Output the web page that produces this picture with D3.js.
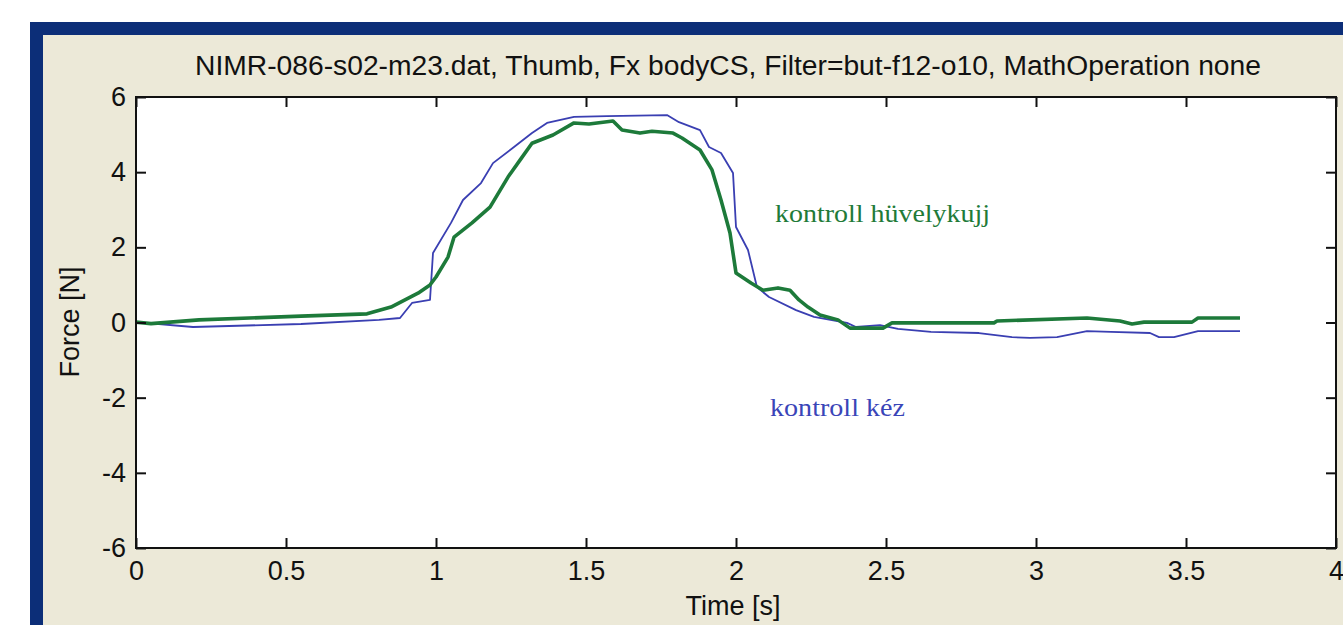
<!DOCTYPE html>
<html>
<head>
<meta charset="utf-8">
<script src="https://cdn.jsdelivr.net/npm/d3@7"></script>
<style>
  html, body { margin: 0; padding: 0; background: #ffffff; overflow: hidden; }
  svg { display: block; }
</style>
</head>
<body>
<svg id="chart" width="1343" height="625"></svg>
<script>
// ---- data ----
const titleText = "NIMR-086-s02-m23.dat, Thumb, Fx bodyCS, Filter=but-f12-o10, MathOperation none";
const xLabel = "Time [s]";
const yLabel = "Force [N]";
const xTicks = [0, 0.5, 1, 1.5, 2, 2.5, 3, 3.5, 4];
const xTickLabels = ["0", "0.5", "1", "1.5", "2", "2.5", "3", "3.5", "4"];
const yTicks = [-6, -4, -2, 0, 2, 4, 6];
const yTickLabels = ["-6", "-4", "-2", "0", "2", "4", "6"];
const seriesNames = ["kontroll hüvelykujj", "kontroll kéz"];

// thumb (green)
const thumbT = [0, 0.05, 0.21, 0.55, 0.77, 0.85, 0.94, 0.98, 1.00, 1.04, 1.06, 1.12, 1.18, 1.24, 1.28, 1.32, 1.39, 1.46, 1.51, 1.59, 1.62, 1.68, 1.72, 1.79, 1.82, 1.88, 1.92, 1.95, 1.98, 2.00, 2.05, 2.09, 2.14, 2.18, 2.21, 2.24, 2.28, 2.34, 2.38, 2.49, 2.52, 2.86, 2.87, 3.17, 3.28, 3.32, 3.36, 3.52, 3.54, 3.68];
const thumbF = [0.01, -0.03, 0.07, 0.17, 0.23, 0.41, 0.78, 1.00, 1.21, 1.74, 2.27, 2.65, 3.07, 3.87, 4.32, 4.77, 4.99, 5.31, 5.28, 5.36, 5.12, 5.04, 5.09, 5.04, 4.91, 4.59, 4.06, 3.26, 2.38, 1.32, 1.05, 0.86, 0.92, 0.86, 0.60, 0.41, 0.20, 0.07, -0.15, -0.15, -0.01, -0.01, 0.04, 0.12, 0.04, -0.04, 0.01, 0.01, 0.12, 0.12];

// hand (blue)
const handT = [0, 0.19, 0.55, 0.81, 0.88, 0.92, 0.98, 0.99, 1.05, 1.09, 1.15, 1.19, 1.26, 1.32, 1.37, 1.46, 1.57, 1.77, 1.81, 1.88, 1.91, 1.95, 1.99, 2.00, 2.04, 2.07, 2.11, 2.20, 2.26, 2.37, 2.40, 2.48, 2.54, 2.65, 2.81, 2.92, 2.98, 3.07, 3.17, 3.25, 3.38, 3.41, 3.46, 3.54, 3.68];
const handF = [0.01, -0.12, -0.04, 0.07, 0.12, 0.52, 0.60, 1.85, 2.65, 3.26, 3.71, 4.24, 4.67, 5.04, 5.31, 5.47, 5.49, 5.52, 5.33, 5.12, 4.67, 4.51, 3.98, 2.54, 1.93, 0.94, 0.68, 0.33, 0.15, -0.01, -0.12, -0.07, -0.17, -0.25, -0.28, -0.39, -0.41, -0.39, -0.23, -0.25, -0.28, -0.39, -0.39, -0.23, -0.23];

// ---- layout ----
const svg = d3.select("#chart");
const W = 1343, H = 625;
const plot = { left: 136, top: 97, right: 1336, bottom: 548 };

// window frame
svg.append("rect").attr("x", 30).attr("y", 22).attr("width", W - 30).attr("height", H - 22).attr("fill", "#0c2e78");
svg.append("rect").attr("x", 43).attr("y", 35).attr("width", W - 43).attr("height", H - 35).attr("fill", "#ece9d8");
// plot area
svg.append("rect").attr("x", plot.left).attr("y", plot.top)
  .attr("width", plot.right - plot.left).attr("height", plot.bottom - plot.top).attr("fill", "#ffffff");

const x = d3.scaleLinear().domain([0, 4]).range([plot.left, plot.right]);
const y = d3.scaleLinear().domain([-6, 6]).range([plot.bottom, plot.top]);

const fontSans = "'Liberation Sans', Arial, sans-serif";
const fontSerif = "'Liberation Serif', 'DejaVu Serif', serif";

// lines
const line = d3.line().x(d => x(d[0])).y(d => y(d[1]));
const handData = handT.map((t, i) => [t, handF[i]]);
const thumbData = thumbT.map((t, i) => [t, thumbF[i]]);

const g = svg.append("g");
g.append("path").datum(handData).attr("d", line)
  .attr("fill", "none").attr("stroke", "#3a3fb2").attr("stroke-width", 1.8).attr("stroke-linejoin", "round");
g.append("path").datum(thumbData).attr("d", line)
  .attr("fill", "none").attr("stroke", "#1d7a3a").attr("stroke-width", 3.6).attr("stroke-linejoin", "round");

// axes
function styleAxis(sel) {
  sel.select(".domain").remove();
  sel.selectAll(".tick line").attr("stroke", "#111").attr("stroke-width", 2);
  sel.selectAll(".tick text").attr("fill", "#111").style("font-family", fontSans).style("font-size", "27px");
}
svg.append("g").attr("transform", `translate(0,${plot.bottom})`)
  .call(d3.axisBottom(x).tickValues(xTicks).tickFormat((d, i) => xTickLabels[i]).tickSizeInner(-10).tickSizeOuter(0).tickPadding(13))
  .call(styleAxis);
svg.append("g").attr("transform", `translate(0,${plot.top})`)
  .call(d3.axisTop(x).tickValues(xTicks).tickFormat("").tickSizeInner(-10).tickSizeOuter(0))
  .call(styleAxis);
svg.append("g").attr("transform", `translate(${plot.left},0)`)
  .call(d3.axisLeft(y).tickValues(yTicks).tickFormat((d, i) => yTickLabels[i]).tickSizeInner(-10).tickSizeOuter(0).tickPadding(10))
  .call(styleAxis);
svg.append("g").attr("transform", `translate(${plot.right},0)`)
  .call(d3.axisRight(y).tickValues(yTicks).tickFormat("").tickSizeInner(-10).tickSizeOuter(0))
  .call(styleAxis);

// frame
svg.append("rect").attr("x", plot.left).attr("y", plot.top)
  .attr("width", plot.right - plot.left).attr("height", plot.bottom - plot.top)
  .attr("fill", "none").attr("stroke", "#111").attr("stroke-width", 2);

// title and axis labels
svg.append("text").attr("x", 728).attr("y", 75).attr("text-anchor", "middle")
  .style("font-family", fontSans).style("font-size", "27px").attr("fill", "#111")
  .attr("textLength", 1066).attr("lengthAdjust", "spacingAndGlyphs")
  .text(titleText);
svg.append("text").attr("x", 733).attr("y", 615).attr("text-anchor", "middle")
  .style("font-family", fontSans).style("font-size", "27px").attr("fill", "#111")
  .text(xLabel);
svg.append("text").attr("transform", "translate(79,322) rotate(-90)").attr("text-anchor", "middle")
  .style("font-family", fontSans).style("font-size", "27px").attr("fill", "#111")
  .text(yLabel);

// series annotations
svg.append("text").attr("x", 775).attr("y", 222)
  .style("font-family", fontSerif).style("font-size", "25px").attr("fill", "#217a38")
  .attr("textLength", 215).attr("lengthAdjust", "spacingAndGlyphs")
  .text(seriesNames[0]);
svg.append("text").attr("x", 770).attr("y", 416)
  .style("font-family", fontSerif).style("font-size", "25px").attr("fill", "#3a45b8")
  .attr("textLength", 135).attr("lengthAdjust", "spacingAndGlyphs")
  .text(seriesNames[1]);
</script>
</body>
</html>
